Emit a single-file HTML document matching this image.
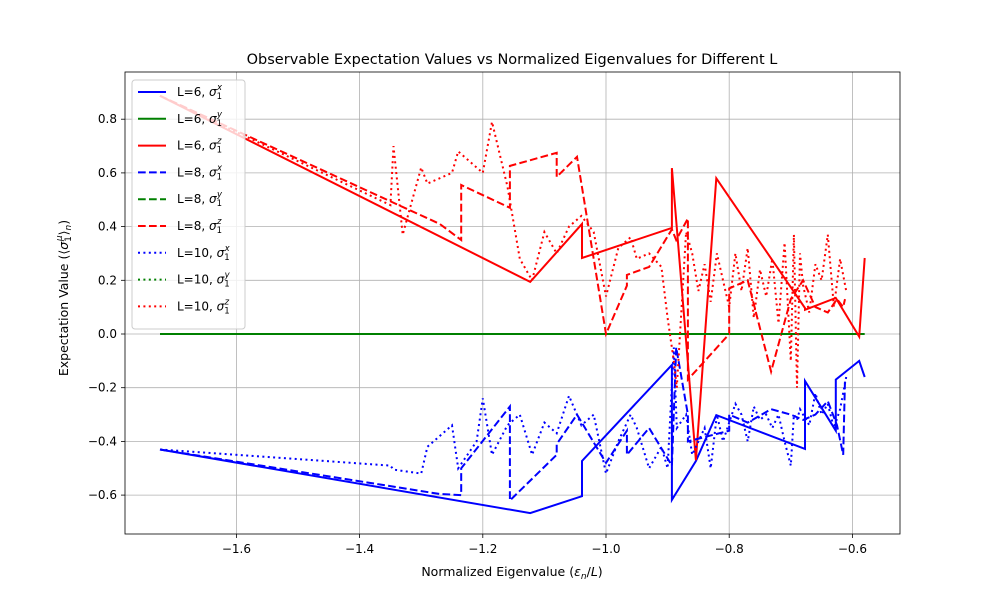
<!DOCTYPE html>
<html><head><meta charset="utf-8"><style>
body{margin:0;background:#fff;font-family:"Liberation Sans","DejaVu Sans",sans-serif}
svg text{font-family:"DejaVu Sans","Liberation Sans",sans-serif}
</style></head><body>
<svg id="chart" width="1000" height="600" xmlns="http://www.w3.org/2000/svg">
<rect width="1000" height="600" fill="#fff"/>
<g id="grid"></g><g id="series"></g><g id="axes"></g><g id="legend"></g>
</svg>
<script>
const xTicks=[-1.6,-1.4,-1.2,-1.0,-0.8,-0.6];
const yTicks=[-0.6,-0.4,-0.2,0.0,0.2,0.4,0.6,0.8];
const xL6=[-1.724,-1.123,-1.039,-1.039,-0.893,-0.893,-0.854,-0.821,-0.677,-0.677,-0.627,-0.627,-0.589,-0.580];
const sxL6=[-0.43,-0.667,-0.604,-0.473,-0.115,-0.618,-0.473,-0.302,-0.428,-0.175,-0.36,-0.17,-0.10,-0.16];
const szL6=[0.887,0.194,0.41,0.283,0.395,0.618,-0.47,0.58,0.097,0.09,0.134,0.134,-0.01,0.283];
const xL8=[-1.724,-1.27,-1.235,-1.235,-1.156,-1.156,-1.08,-1.08,-1.047,-1.0,-0.966,-0.966,-0.93,-0.893,-0.886,-0.867,-0.867,-0.80,-0.80,-0.77,-0.732,-0.70,-0.68,-0.66,-0.64,-0.625,-0.615,-0.612];
const sxL8=[-0.43,-0.596,-0.6,-0.5,-0.27,-0.62,-0.45,-0.41,-0.30,-0.48,-0.36,-0.45,-0.35,-0.49,-0.05,-0.30,-0.40,-0.36,-0.30,-0.33,-0.28,-0.30,-0.32,-0.30,-0.25,-0.34,-0.45,-0.17];
const szL8=[0.887,0.41,0.35,0.555,0.47,0.626,0.675,0.585,0.66,0.0,0.18,0.22,0.25,0.39,0.35,0.43,-0.17,0.0,0.17,0.20,-0.14,0.13,0.20,0.10,0.08,0.13,0.10,0.13];
const xL10=[-1.724,-1.35,-1.345,-1.33,-1.30,-1.29,-1.25,-1.24,-1.21,-1.20,-1.185,-1.16,-1.14,-1.12,-1.10,-1.08,-1.06,-1.04,-1.02,-1.00,-0.98,-0.96,-0.95,-0.93,-0.91,-0.90,-0.89,-0.885,-0.87,-0.86,-0.85,-0.84,-0.83,-0.82,-0.81,-0.80,-0.79,-0.78,-0.77,-0.76,-0.75,-0.74,-0.73,-0.72,-0.71,-0.70,-0.695,-0.69,-0.685,-0.68,-0.67,-0.66,-0.65,-0.64,-0.63,-0.62,-0.61];
const szL10=[0.887,0.48,0.70,0.37,0.62,0.56,0.60,0.68,0.62,0.60,0.79,0.55,0.28,0.20,0.38,0.30,0.40,0.44,0.38,0.14,0.32,0.36,0.28,0.30,0.25,0.06,-0.10,-0.20,0.38,0.30,0.16,0.26,0.12,0.30,0.20,0.10,0.30,0.16,0.32,0.06,0.24,0.14,0.28,0.04,0.34,-0.10,0.37,-0.20,0.30,0.18,0.08,0.26,0.20,0.37,0.10,0.28,0.16];
const sxL10=[-0.43,-0.49,-0.505,-0.51,-0.52,-0.42,-0.34,-0.50,-0.40,-0.24,-0.45,-0.34,-0.30,-0.45,-0.33,-0.37,-0.23,-0.34,-0.30,-0.52,-0.40,-0.30,-0.35,-0.50,-0.42,-0.50,-0.05,-0.35,-0.30,-0.45,-0.40,-0.35,-0.50,-0.30,-0.40,-0.33,-0.26,-0.30,-0.40,-0.27,-0.32,-0.30,-0.35,-0.30,-0.40,-0.49,-0.30,-0.32,-0.28,-0.30,-0.34,-0.22,-0.30,-0.26,-0.35,-0.28,-0.16];

const NS="http://www.w3.org/2000/svg";
const L=125,R=900,T=72,B=534;
function X(v){return 606+(v+1)*616;}
function Y(v){return 334-v*268.5;}
function mk(tag,attrs,parent){const e=document.createElementNS(NS,tag);for(const k in attrs)e.setAttribute(k,attrs[k]);parent.appendChild(e);return e;}
const grid=document.getElementById('grid'),axes=document.getElementById('axes'),ser=document.getElementById('series'),leg=document.getElementById('legend');
xTicks.forEach(t=>{
  const gl=mk('line',{x1:X(t),x2:X(t),y1:T,y2:B,stroke:'#b0b0b0','stroke-width':0.8},grid);
  
  
  mk('line',{x1:X(t),x2:X(t),y1:B,y2:B+4,stroke:'#000','stroke-width':0.8},axes);
  const tx=mk('text',{x:X(t),y:B+19,'font-size':12,'text-anchor':'middle'},axes);
  tx.textContent=(t<0?'\u2212':'')+Math.abs(t).toFixed(1);
  
  
});
yTicks.forEach(t=>{
  const gl=mk('line',{x1:L,x2:R,y1:Y(t),y2:Y(t),stroke:'#b0b0b0','stroke-width':0.8},grid);
  
  
  mk('line',{x1:L-4,x2:L,y1:Y(t),y2:Y(t),stroke:'#000','stroke-width':0.8},axes);
  const tx=mk('text',{x:L-8,y:Y(t)+4,'font-size':12,'text-anchor':'end'},axes);
  tx.textContent=(t<0?'\u2212':'')+Math.abs(t).toFixed(1);
  
  
});
const fr=mk('rect',{x:L,y:T,width:R-L,height:B-T,fill:'none',stroke:'#000','stroke-width':0.8},axes);


const title=mk('text',{x:512,y:64,'font-size':14.5,'text-anchor':'middle'},axes);
title.textContent='Observable Expectation Values vs Normalized Eigenvalues for Different L';


const xt=mk('text',{x:512,y:576,'font-size':12.5,'text-anchor':'middle'},axes);
xt.innerHTML='Normalized Eigenvalue (<tspan font-style="italic">ε</tspan><tspan font-size="9" dy="3" font-style="italic">n</tspan><tspan dy="-3">/</tspan><tspan font-style="italic">L</tspan>)';


const yt=mk('text',{x:0,y:0,'font-size':12.5,'text-anchor':'middle',transform:'translate(68,298) rotate(-90)'},axes);
yt.innerHTML='Expectation Value (⟨<tspan font-style="italic">σ</tspan><tspan font-size="9" dy="3">1</tspan><tspan font-size="9" dy="-9" dx="-5" font-style="italic">μ</tspan><tspan dy="6">⟩</tspan><tspan font-size="9" dy="3" font-style="italic">n</tspan><tspan dy="-3">)</tspan>';



const dashes={6:'',8:'7.7,3.3',10:'2,3.4'};
const seriesList=[
 [6,xL6,sxL6,'blue','x'],[6,xL6,xL6.map(()=>0),'green','y'],[6,xL6,szL6,'red','z'],
 [8,xL8,sxL8,'blue','x'],[8,xL8,xL8.map(()=>0),'green','y'],[8,xL8,szL8,'red','z'],
 [10,xL10,sxL10,'blue','x'],[10,xL10,xL10.map(()=>0),'green','y'],[10,xL10,szL10,'red','z']];
seriesList.forEach((s,i)=>{
  const [l,xs,ys,col,comp]=s;
  const d=xs.map((x,j)=>(j?'L':'M')+X(x).toFixed(1)+','+Y(ys[j]).toFixed(1)).join(' ');
  const p=mk('path',{d:d,fill:'none',stroke:col,'stroke-width':2,'stroke-dasharray':dashes[l],'stroke-linejoin':'miter'},ser);
  
  
  const ly=92+i*26.8;
  const ll=mk('line',{x1:138,x2:166,y1:ly,y2:ly,stroke:col,'stroke-width':2,'stroke-dasharray':dashes[l]},leg);
  
  
  const lt=mk('text',{x:177,y:ly+4,'font-size':12},leg);
  lt.innerHTML='L='+l+', <tspan font-style="italic">σ</tspan><tspan font-size="8.5" dy="3">1</tspan><tspan font-size="8.5" dy="-9" dx="-5" font-style="italic">'+comp+'</tspan>';
  
  
});
const lb=mk('rect',{x:132,y:80,width:113,height:249,rx:3,fill:'#fff','fill-opacity':0.8,stroke:'#ccc','stroke-width':1},leg);


leg.insertBefore(lb,leg.firstChild);
</script>
</body></html>
